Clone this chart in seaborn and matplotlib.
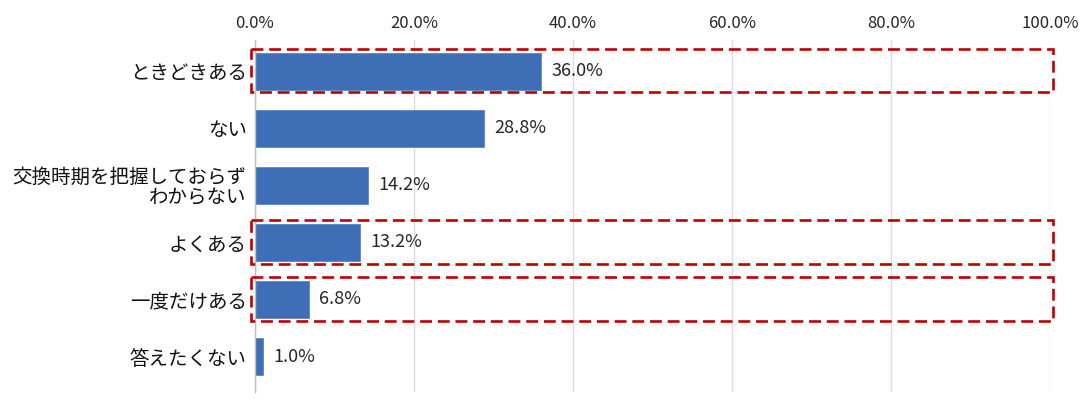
import matplotlib
matplotlib.use("Agg")
import matplotlib.pyplot as plt
from matplotlib.patches import Rectangle
from matplotlib.ticker import FuncFormatter
import seaborn as sns
import pandas as pd

categories = ["ときどきある", "ない", "交換時期を把握しておらず\nわからない",
              "よくある", "一度だけある", "答えたくない"]
values = [36.0, 28.8, 14.2, 13.2, 6.8, 1.0]
highlighted = ["ときどきある", "よくある", "一度だけある"]

sns.set_theme(style="white")
plt.rcParams['font.family'] = ['Noto Sans CJK JP', 'DejaVu Sans']

df = pd.DataFrame({"category": categories, "value": values})

fig = plt.figure(figsize=(10.92, 4.04), dpi=100)
ax = fig.add_axes([0.2335, 0.030, 0.728, 0.871])

sns.barplot(data=df, x="value", y="category", orient="h", color="#3E6EB6",
            saturation=1, width=0.64, edgecolor="#5A86C8", linewidth=0.6, ax=ax)

ax.set_xlim(0, 100)
ax.set_ylim(5.62, -0.55)
ax.set_xticks([0, 20, 40, 60, 80, 100])
ax.xaxis.set_major_formatter(FuncFormatter(lambda v, p: f"{v:.1f}%"))
ax.xaxis.tick_top()
ax.tick_params(axis="x", length=0, labelsize=12, colors="#262626", pad=6)
ax.tick_params(axis="y", length=0, labelsize=14, colors="#111111", pad=6)
for lab in ax.get_yticklabels():
    lab.set_linespacing(1.0)
ax.set_xlabel("")
ax.set_ylabel("")
ax.grid(axis="x", color="#DCDCE8", linewidth=1)
ax.set_axisbelow(True)
for s in ["top", "right", "bottom"]:
    ax.spines[s].set_visible(False)
ax.spines["left"].set_color("#BFBFBF")
ax.spines["left"].set_linewidth(1)

for i, v in enumerate(values):
    ax.annotate(f"{v:.1f}%", (v, i), xytext=(7.5, 0), textcoords="offset points",
                va="center", ha="left", fontsize=13, color="#262626")

for i, c in enumerate(categories):
    if c in highlighted:
        r = Rectangle((-0.5, i - 0.39), 100.9, 0.76, fill=False,
                      edgecolor="#C00000", linewidth=1.9,
                      linestyle=(0, (4.5, 2.2)), clip_on=False, zorder=5)
        ax.add_patch(r)

fig.savefig("out.png", dpi=100)
